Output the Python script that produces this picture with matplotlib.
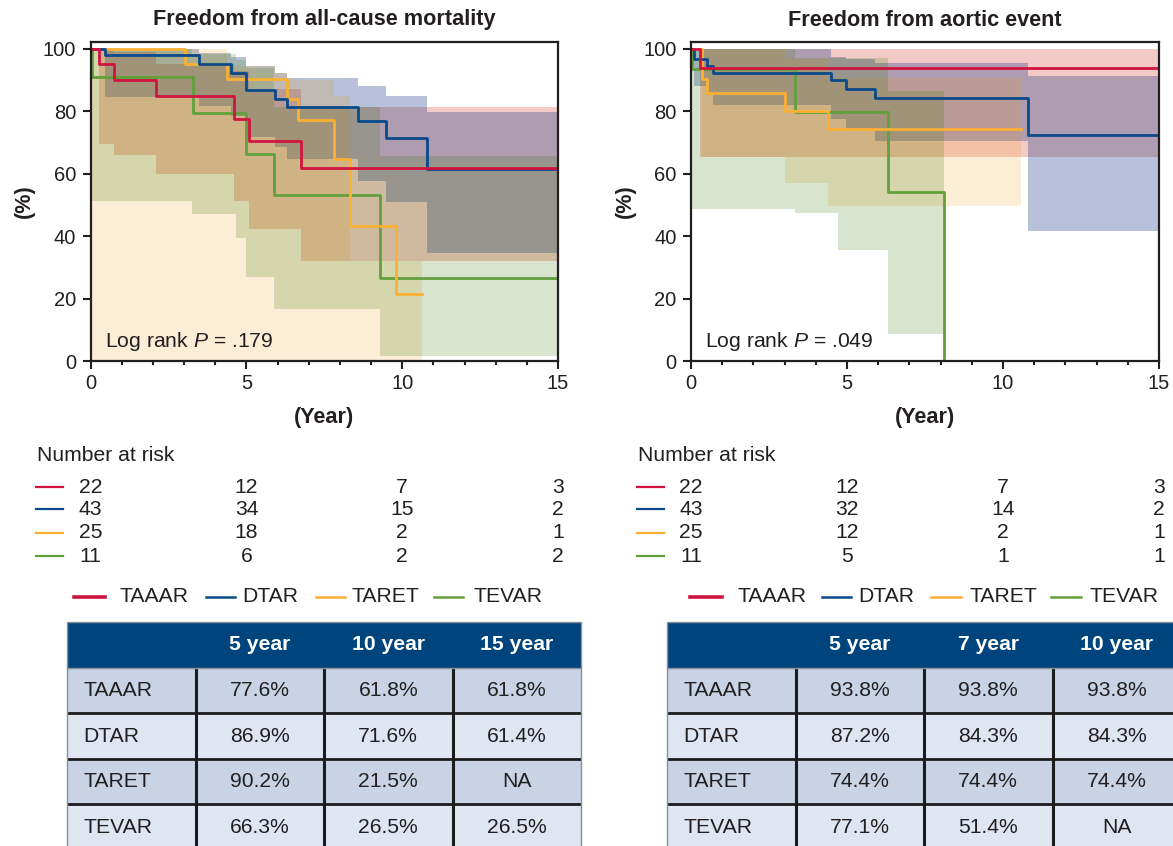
import matplotlib
matplotlib.use('Agg')
import matplotlib.pyplot as plt
from matplotlib.lines import Line2D
from matplotlib.patches import Rectangle
import matplotlib.transforms as mtransforms
from matplotlib.ticker import MultipleLocator

plt.rcParams['font.family'] = ['Liberation Sans', 'DejaVu Sans']
plt.rcParams['mathtext.fontset'] = 'custom'
plt.rcParams['mathtext.it'] = 'Liberation Sans:italic'
plt.rcParams['mathtext.rm'] = 'Liberation Sans'

W, H = 1173, 846

# ---------------- data ----------------
groups = ['TAAAR', 'DTAR', 'TARET', 'TEVAR']
line_colors = {'TAAAR': '#d0143f', 'DTAR': '#0a4a8a', 'TARET': '#fbb034', 'TEVAR': '#62a03c'}
band_colors = {'TAAAR': '#ce1200', 'DTAR': '#002a7c', 'TARET': '#f29500', 'TEVAR': '#3d7a00'}
band_alpha = {'TAAAR': 0.224, 'DTAR': 0.282, 'TARET': 0.161, 'TEVAR': 0.196}

# Left panel: all-cause mortality  (step times, survival %)
mort_TAAAR_t = [0, 0.27, 0.75, 2.1, 4.6, 5.07, 6.74]
mort_TAAAR_s = [100, 95.0, 90.1, 84.8, 77.6, 70.4, 61.8]
mort_TAAAR_lo = [100, 69.6, 66.0, 59.9, 51.1, 42.3, 32.1]
mort_TAAAR_hi = [100, 100, 99, 95, 93, 87.2, 81.3]
mort_TAAAR_end = 15

mort_DTAR_t = [0, 0.47, 3.47, 4.49, 4.97, 5.93, 6.3, 8.59, 9.48, 10.79]
mort_DTAR_s = [100, 97.9, 95.0, 92.3, 86.9, 84.0, 81.3, 76.8, 71.6, 61.4]
mort_DTAR_lo = [100, 84.5, 81.8, 78.6, 71.7, 68.6, 64.7, 57.8, 50.9, 34.5]
mort_DTAR_hi = [100, 100, 98.7, 97.3, 94.6, 92.3, 90.6, 88.0, 84.8, 79.9]
mort_DTAR_end = 15

mort_TARET_t = [0, 3.02, 4.39, 6.3, 6.66, 7.81, 8.32, 9.81]
mort_TARET_s = [100, 95.0, 90.2, 83.8, 77.2, 64.7, 43.3, 21.5]
mort_TARET_end = 10.63
mort_TARET_band_t = [0, 3.02, 4.39, 5.93, 6.3, 6.66, 7.81, 8.32, 9.81]
mort_TARET_lo = [0, 0, 0, 0, 0, 0, 0, 0, 0]
mort_TARET_hi = [100, 100, 94.5, 92.2, 90.5, 90.0, 85, 32, 32]

mort_TEVAR_t = [0, 0.05, 3.28, 4.97, 5.88, 9.29]
mort_TEVAR_s = [100, 90.9, 79.5, 66.3, 53.3, 26.5]
mort_TEVAR_end = 15
mort_TEVAR_band_t = [0.05, 3.25, 4.67, 5.0, 5.88, 9.29]
mort_TEVAR_lo = [51.1, 47.1, 39.4, 26.9, 16.8, 1.6]
mort_TEVAR_hi = [100, 98.5, 96.5, 94, 81.3, 65.8]

# Right panel: aortic event
aort_TAAAR_t = [0, 0.3]
aort_TAAAR_s = [100, 93.8]
aort_TAAAR_lo = [100, 65.3]
aort_TAAAR_hi = [100, 100]
aort_TAAAR_end = 15

aort_DTAR_t = [0, 0.11, 0.5, 0.71, 4.49, 4.97, 5.9, 10.79]
aort_DTAR_s = [100, 96.7, 94.5, 92.4, 90.1, 87.2, 84.3, 72.4]
aort_DTAR_lo = [100, 88, 86, 82.0, 77.6, 74.0, 70.6, 41.8]
aort_DTAR_hi = [100, 100, 100, 100, 97.5, 96.8, 95.4, 91.4]
aort_DTAR_end = 15

aort_TARET_t = [0, 0.35, 0.5, 3.0, 4.4]
aort_TARET_s = [100, 90.3, 85.8, 80.2, 74.4]
aort_TARET_lo = [100, 65.3, 65.3, 57.1, 49.8]
aort_TARET_hi = [100, 100, 100, 96.8, 90.6]
aort_TARET_end = 10.57

aort_TEVAR_t = [0, 0.03, 3.32, 6.31, 8.11]
aort_TEVAR_s = [100, 93.5, 79.9, 54.1, 0]
aort_TEVAR_end = 8.11
aort_TEVAR_band_t = [0.01, 3.32, 4.71, 6.31]
aort_TEVAR_lo = [48.7, 47.4, 35.7, 8.7]
aort_TEVAR_hi = [100, 97, 97, 86.6]

risk_times = [0, 5, 10, 15]
mort_risk = {'TAAAR': [22, 12, 7, 3], 'DTAR': [43, 34, 15, 2],
             'TARET': [25, 18, 2, 1], 'TEVAR': [11, 6, 2, 2]}
aort_risk = {'TAAAR': [22, 12, 7, 3], 'DTAR': [43, 32, 14, 2],
             'TARET': [25, 12, 2, 1], 'TEVAR': [11, 5, 1, 1]}

mort_table_cols = ['5 year', '10 year', '15 year']
mort_table = {'TAAAR': ['77.6%', '61.8%', '61.8%'], 'DTAR': ['86.9%', '71.6%', '61.4%'],
              'TARET': ['90.2%', '21.5%', 'NA'], 'TEVAR': ['66.3%', '26.5%', '26.5%']}
aort_table_cols = ['5 year', '7 year', '10 year']
aort_table = {'TAAAR': ['93.8%', '93.8%', '93.8%'], 'DTAR': ['87.2%', '84.3%', '84.3%'],
              'TARET': ['74.4%', '74.4%', '74.4%'], 'TEVAR': ['77.1%', '51.4%', 'NA']}

mort_series = {
    'TAAAR': dict(t=mort_TAAAR_t, s=mort_TAAAR_s, bt=mort_TAAAR_t, lo=mort_TAAAR_lo, hi=mort_TAAAR_hi, end=mort_TAAAR_end),
    'DTAR': dict(t=mort_DTAR_t, s=mort_DTAR_s, bt=mort_DTAR_t, lo=mort_DTAR_lo, hi=mort_DTAR_hi, end=mort_DTAR_end),
    'TARET': dict(t=mort_TARET_t, s=mort_TARET_s, bt=mort_TARET_band_t, lo=mort_TARET_lo, hi=mort_TARET_hi, end=mort_TARET_end),
    'TEVAR': dict(t=mort_TEVAR_t, s=mort_TEVAR_s, bt=mort_TEVAR_band_t, lo=mort_TEVAR_lo, hi=mort_TEVAR_hi, end=mort_TEVAR_end),
}
aort_series = {
    'TAAAR': dict(t=aort_TAAAR_t, s=aort_TAAAR_s, bt=aort_TAAAR_t, lo=aort_TAAAR_lo, hi=aort_TAAAR_hi, end=aort_TAAAR_end),
    'DTAR': dict(t=aort_DTAR_t, s=aort_DTAR_s, bt=aort_DTAR_t, lo=aort_DTAR_lo, hi=aort_DTAR_hi, end=aort_DTAR_end),
    'TARET': dict(t=aort_TARET_t, s=aort_TARET_s, bt=aort_TARET_t, lo=aort_TARET_lo, hi=aort_TARET_hi, end=aort_TARET_end),
    'TEVAR': dict(t=aort_TEVAR_t, s=aort_TEVAR_s, bt=aort_TEVAR_band_t, lo=aort_TEVAR_lo, hi=aort_TEVAR_hi, end=aort_TEVAR_end),
}

# ---------------- helpers ----------------
def fx(px):
    return px / W


def fy(py):
    return 1 - py / H


TXT = '#231f20'
FS = 15.2       # regular text
FSB = 15.6      # bold titles / labels
FST = 14.5      # tick labels

fig = plt.figure(figsize=(W / 100, H / 100), dpi=100)


def km_panel(left_px, right_px, series, title, pval):
    ax = fig.add_axes([fx(left_px), fy(361), (right_px - left_px) / W, (361 - 42) / H])
    ax.set_xlim(0, 15)
    ax.set_ylim(0, 102.2)
    for g in groups:
        d = series[g]
        bx = list(d['bt']) + [d['end']]
        lo = list(d['lo']) + [d['lo'][-1]]
        hi = list(d['hi']) + [d['hi'][-1]]
        ax.fill_between(bx, lo, hi, step='post', color=band_colors[g],
                        alpha=band_alpha[g], lw=0, zorder=1)
    for g in ['TEVAR', 'TARET', 'DTAR', 'TAAAR']:
        d = series[g]
        x = list(d['t']) + [d['end']]
        y = list(d['s']) + [d['s'][-1]]
        ax.step(x, y, where='post', color=line_colors[g], lw=2.0, zorder=3)
    for sp in ax.spines.values():
        sp.set_linewidth(1.6)
        sp.set_color(TXT)
        sp.set_zorder(5)
    ax.set_xticks([0, 5, 10, 15])
    ax.xaxis.set_minor_locator(MultipleLocator(1))
    ax.set_yticks([0, 20, 40, 60, 80, 100])
    ax.tick_params(axis='both', which='major', length=5.5, width=1.5, color=TXT,
                   labelsize=FST, labelcolor=TXT, direction='out')
    ax.tick_params(axis='x', which='major', pad=4)
    ax.tick_params(axis='y', which='major', pad=5)
    ax.tick_params(axis='x', which='minor', length=2.8, width=1.5, color=TXT, direction='out')
    cx = (left_px + right_px) / 2
    fig.text(fx(cx), fy(20), title, ha='center', va='center', fontsize=FSB,
             fontweight='bold', color=TXT)
    fig.text(fx(left_px - 66), fy(201), '(%)', rotation=90, ha='center', va='center',
             fontsize=FSB, fontweight='bold', color=TXT)
    fig.text(fx(cx), fy(418), '(Year)', ha='center', va='center', fontsize=FSB,
             fontweight='bold', color=TXT)
    ax.text(0.45, 6.4, r'Log rank $P$ = ' + pval, ha='left', va='center',
            fontsize=FS, color=TXT, zorder=6)
    return ax


def risk_block(ax, left_text_px, risk):
    fig.text(fx(left_text_px), fy(455), 'Number at risk', ha='left', va='center',
             fontsize=FS, color=TXT)
    tr = mtransforms.blended_transform_factory(ax.transData, fig.transFigure)
    rows_y = [487, 509.5, 532.5, 556]
    for g, ry in zip(groups, rows_y):
        fig.add_artist(Line2D([fx(left_text_px - 1), fx(left_text_px + 26)], [fy(ry), fy(ry)],
                              color=line_colors[g], lw=1.6, transform=fig.transFigure))
        for t, n in zip(risk_times, risk[g]):
            fig.text(t, fy(ry), str(n), transform=tr, ha='center', va='center',
                     fontsize=FS, color=TXT)


def legend_row(starts_px):
    for g, (l0, l1, t0) in zip(groups, starts_px):
        fig.add_artist(Line2D([fx(l0), fx(l1)], [fy(597), fy(597)], color=line_colors[g],
                              lw=2.6 if g == 'TAAAR' else 1.8, transform=fig.transFigure))
        fig.text(fx(t0), fy(597), g, ha='left', va='center', fontsize=FS, color=TXT)


def table_block(left_px, cols, table):
    tw = 514
    axt = fig.add_axes([fx(left_px), fy(850), tw / W, (850 - 622) / H])
    axt.set_xlim(0, 4)
    axt.set_ylim(5, 0)
    axt.axis('off')
    axt.add_patch(Rectangle((0, 0), 4, 1, facecolor='#00447e', edgecolor='none', clip_on=False))
    body = ['#c9d3e6', '#dfe5f1']
    for i, g in enumerate(groups):
        axt.add_patch(Rectangle((0, i + 1), 4, 1, facecolor=body[i % 2], edgecolor='none',
                                clip_on=False))
        axt.text(0.13, i + 1.5, g, ha='left', va='center', fontsize=FS, color=TXT)
        for j, v in enumerate(table[g]):
            axt.text(j + 1.5, i + 1.5, v, ha='center', va='center', fontsize=FS, color=TXT)
    for j, c in enumerate(cols):
        axt.text(j + 1.5, 0.5, c, ha='center', va='center', fontsize=FS, color='white',
                 fontweight='bold')
    for xv in [1, 2, 3]:
        axt.plot([xv, xv], [1, 5], color='#1c1c1c', lw=2.2, clip_on=False,
                 solid_capstyle='butt')
    for yv in [2, 3, 4]:
        axt.plot([0, 4], [yv, yv], color='#1c1c1c', lw=2.0, clip_on=False,
                 solid_capstyle='butt')
    axt.plot([0, 4], [1, 1], color='#8a8f99', lw=1.0, clip_on=False)
    axt.plot([0, 0, 4, 4], [5, 0, 0, 5], color='#8a8f99', lw=1.0, clip_on=False)


axL = km_panel(90.7, 558, mort_series, 'Freedom from all-cause mortality', '.179')
axR = km_panel(691, 1159, aort_series, 'Freedom from aortic event', '.049')

risk_block(axL, 37, mort_risk)
risk_block(axR, 638, aort_risk)

legend_row([(74, 105, 119), (206, 235, 242), (316, 345, 352), (434, 463, 474)])
legend_row([(690, 722, 737), (822, 851, 858), (931, 961, 969), (1051, 1081, 1089)])

table_block(67, mort_table_cols, mort_table)
table_block(667, aort_table_cols, aort_table)

fig.savefig('out.png', dpi=100)
